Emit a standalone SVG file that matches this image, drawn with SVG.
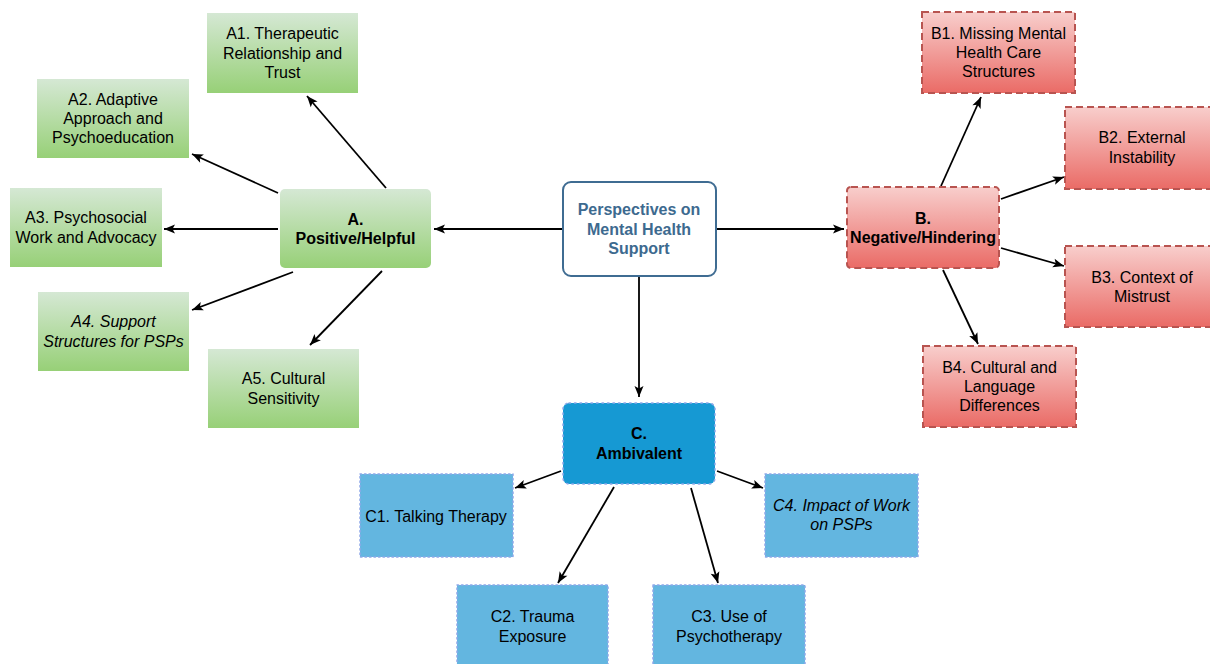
<svg xmlns="http://www.w3.org/2000/svg" width="1210" height="664" viewBox="0 0 1210 664">
<defs>
<linearGradient id="gGreen" x1="0" y1="0" x2="0" y2="1"><stop offset="0" stop-color="#d5e8d4"/><stop offset="1" stop-color="#97d077"/></linearGradient>
<linearGradient id="gRed" x1="0" y1="0" x2="0" y2="1"><stop offset="0" stop-color="#f8cecc"/><stop offset="1" stop-color="#ea6b66"/></linearGradient>
<marker id="arr" markerUnits="userSpaceOnUse" markerWidth="12" markerHeight="10" refX="11" refY="4.5" orient="auto" overflow="visible">
<path d="M0,0 L11,4.5 L0,9 L2.5,4.5 z" fill="#000"/>
</marker>
</defs>
<style>
text{font-family:"Liberation Sans",Arial,sans-serif;font-size:16px;fill:#000;text-anchor:middle}
.b{font-weight:bold}
.i{font-style:italic}
.ct{fill:#3d6a8f;font-weight:bold}
.green{fill:url(#gGreen);stroke:none}
.red{fill:url(#gRed);stroke:#b85450;stroke-width:2;stroke-dasharray:7 4}
.cmain{fill:#1699d3;stroke:#8fa8e8;stroke-width:1.5;stroke-dasharray:1.5 4;stroke-linecap:round}
.csub{fill:#63b6e0;stroke:#8fa8e8;stroke-width:1.5;stroke-dasharray:1.5 3;stroke-linecap:round}
.center{fill:#fff;stroke:#3f6c92;stroke-width:2}
.edge{stroke:#000;stroke-width:1.8;fill:none;marker-end:url(#arr)}
</style>

<g id="connectors">
<line class="edge" x1="562" y1="229" x2="434" y2="229"/>
<line class="edge" x1="716" y1="229" x2="844" y2="229"/>
<line class="edge" x1="639" y1="276" x2="639" y2="397"/>
<line class="edge" x1="386" y1="188" x2="307" y2="96"/>
<line class="edge" x1="278" y1="193" x2="192" y2="154"/>
<line class="edge" x1="278" y1="229" x2="164" y2="229"/>
<line class="edge" x1="293" y1="272" x2="192" y2="310"/>
<line class="edge" x1="382" y1="271" x2="310" y2="345"/>
<line class="edge" x1="941" y1="186" x2="981" y2="97"/>
<line class="edge" x1="1001" y1="199" x2="1064" y2="177"/>
<line class="edge" x1="1001" y1="248" x2="1064" y2="266"/>
<line class="edge" x1="943" y1="270" x2="978" y2="344"/>
<line class="edge" x1="561" y1="471" x2="515" y2="488"/>
<line class="edge" x1="614" y1="487" x2="558" y2="583"/>
<line class="edge" x1="691" y1="488" x2="718" y2="583"/>
<line class="edge" x1="717" y1="471" x2="763" y2="488"/>
</g>

<g id="center">
<rect class="center" x="563" y="182" width="153" height="94" rx="8"/>
<text class="ct" x="639" y="215.3">Perspectives on</text>
<text class="ct" x="639" y="234.5">Mental Health</text>
<text class="ct" x="639" y="253.7">Support</text>
</g>

<g id="nodeA">
<rect class="green" x="280" y="189" width="151" height="79" rx="5"/>
<text class="b" x="355.5" y="224.5">A.</text>
<text class="b" x="355.5" y="243.7">Positive/Helpful</text>
</g>
<g id="nodeA1">
<rect class="green" x="207" y="13" width="151" height="80"/>
<text x="282.5" y="39.3">A1. Therapeutic</text>
<text x="282.5" y="58.5">Relationship and</text>
<text x="282.5" y="77.7">Trust</text>
</g>
<g id="nodeA2">
<rect class="green" x="37" y="79" width="152" height="79"/>
<text x="113" y="104.8">A2. Adaptive</text>
<text x="113" y="124">Approach and</text>
<text x="113" y="143.2">Psychoeducation</text>
</g>
<g id="nodeA3">
<rect class="green" x="10" y="188" width="152" height="79"/>
<text x="86" y="223.4">A3. Psychosocial</text>
<text x="86" y="242.6">Work and Advocacy</text>
</g>
<g id="nodeA4">
<rect class="green" x="38" y="292" width="151" height="79"/>
<text class="i" x="113.5" y="327.4">A4. Support</text>
<text class="i" x="113.5" y="346.6">Structures for PSPs</text>
</g>
<g id="nodeA5">
<rect class="green" x="208" y="349" width="151" height="79"/>
<text x="283.5" y="384.4">A5. Cultural</text>
<text x="283.5" y="403.6">Sensitivity</text>
</g>

<g id="nodeB">
<rect class="red" x="847" y="187" width="152" height="81" rx="4"/>
<text class="b" x="923" y="223.9">B.</text>
<text class="b" x="923" y="243.1">Negative/Hindering</text>
</g>
<g id="nodeB1">
<rect class="red" x="922" y="12" width="153" height="81"/>
<text x="998.5" y="38.8">B1. Missing Mental</text>
<text x="998.5" y="58">Health Care</text>
<text x="998.5" y="77.2">Structures</text>
</g>
<g id="nodeB2">
<rect class="red" x="1065" y="107" width="154" height="82"/>
<text x="1142" y="143.4">B2. External</text>
<text x="1142" y="162.6">Instability</text>
</g>
<g id="nodeB3">
<rect class="red" x="1065" y="246" width="154" height="81"/>
<text x="1142" y="282.9">B3. Context of</text>
<text x="1142" y="302.1">Mistrust</text>
</g>
<g id="nodeB4">
<rect class="red" x="923" y="346" width="153" height="81"/>
<text x="999.5" y="372.8">B4. Cultural and</text>
<text x="999.5" y="392">Language</text>
<text x="999.5" y="411.2">Differences</text>
</g>

<g id="nodeC">
<rect class="cmain" x="563" y="403" width="152" height="81" rx="6"/>
<text class="b" x="639" y="439.4">C.</text>
<text class="b" x="639" y="458.6">Ambivalent</text>
</g>
<g id="nodeC1">
<rect class="csub" x="360" y="474" width="153" height="83"/>
<text x="436" y="521.5">C1. Talking Therapy</text>
</g>
<g id="nodeC2">
<rect class="csub" x="457" y="585" width="151" height="83"/>
<text x="532.5" y="622.4">C2. Trauma</text>
<text x="532.5" y="641.6">Exposure</text>
</g>
<g id="nodeC3">
<rect class="csub" x="653" y="585" width="152" height="83"/>
<text x="729" y="622.4">C3. Use of</text>
<text x="729" y="641.6">Psychotherapy</text>
</g>
<g id="nodeC4">
<rect class="csub" x="765" y="474" width="153" height="83"/>
<text class="i" x="841.5" y="510.9">C4. Impact of Work</text>
<text class="i" x="841.5" y="530.1">on PSPs</text>
</g>
</svg>
